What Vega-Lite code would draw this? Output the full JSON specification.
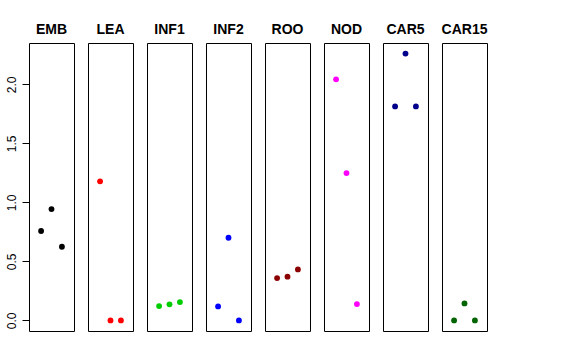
{
  "$schema": "https://vega.github.io/schema/vega-lite/v6.json",
  "padding": {"left": 5, "top": 23, "right": 5, "bottom": 5},
  "background": "white",
  "bounds": "flush",
  "data": {"values": [
    {"g": "EMB", "i": 1, "v": 0.757}, {"g": "EMB", "i": 2, "v": 0.943}, {"g": "EMB", "i": 3, "v": 0.624},
    {"g": "LEA", "i": 1, "v": 1.178}, {"g": "LEA", "i": 2, "v": 0.0}, {"g": "LEA", "i": 3, "v": 0.0},
    {"g": "INF1", "i": 1, "v": 0.121}, {"g": "INF1", "i": 2, "v": 0.136}, {"g": "INF1", "i": 3, "v": 0.155},
    {"g": "INF2", "i": 1, "v": 0.118}, {"g": "INF2", "i": 2, "v": 0.700}, {"g": "INF2", "i": 3, "v": 0.0},
    {"g": "ROO", "i": 1, "v": 0.358}, {"g": "ROO", "i": 2, "v": 0.370}, {"g": "ROO", "i": 3, "v": 0.432},
    {"g": "NOD", "i": 1, "v": 2.042}, {"g": "NOD", "i": 2, "v": 1.248}, {"g": "NOD", "i": 3, "v": 0.138},
    {"g": "CAR5", "i": 1, "v": 1.813}, {"g": "CAR5", "i": 2, "v": 2.26}, {"g": "CAR5", "i": 3, "v": 1.813},
    {"g": "CAR15", "i": 1, "v": 0.0}, {"g": "CAR15", "i": 2, "v": 0.144}, {"g": "CAR15", "i": 3, "v": 0.0}
  ]},
  "facet": {
    "column": {
      "field": "g",
      "type": "nominal",
      "sort": ["EMB", "LEA", "INF1", "INF2", "ROO", "NOD", "CAR5", "CAR15"],
      "header": {
        "title": null,
        "labelOrient": "top",
        "labelFont": "Liberation Sans",
        "labelFontSize": 14,
        "labelFontWeight": "bold",
        "labelColor": "black",
        "labelPadding": 6
      }
    }
  },
  "spacing": 14,
  "spec": {
    "width": 45,
    "height": 288,
    "mark": {"type": "circle", "size": 34, "opacity": 1},
    "encoding": {
      "x": {
        "field": "i", "type": "quantitative",
        "scale": {"domain": [-0.16, 4.16], "nice": false, "zero": false},
        "axis": null
      },
      "y": {
        "field": "v", "type": "quantitative",
        "scale": {"domain": [-0.09, 2.35], "nice": false, "zero": false},
        "axis": {
          "title": null,
          "values": [0, 0.5, 1, 1.5, 2],
          "format": ".1f",
          "grid": false,
          "domain": false,
          "tickColor": "black",
          "tickSize": 7,
          "labelAngle": -90,
          "labelAlign": "center",
          "labelBaseline": "bottom",
          "labelFont": "Liberation Sans",
          "labelFontSize": 12,
          "labelColor": "black",
          "labelPadding": 4
        }
      },
      "color": {
        "field": "g", "type": "nominal",
        "scale": {
          "domain": ["EMB", "LEA", "INF1", "INF2", "ROO", "NOD", "CAR5", "CAR15"],
          "range": ["#000000", "#FF0000", "#00CD00", "#0000FF", "#8B0000", "#FF00FF", "#00008B", "#006400"]
        },
        "legend": null
      }
    }
  },
  "config": {
    "view": {"stroke": "black", "strokeWidth": 1}
  }
}
